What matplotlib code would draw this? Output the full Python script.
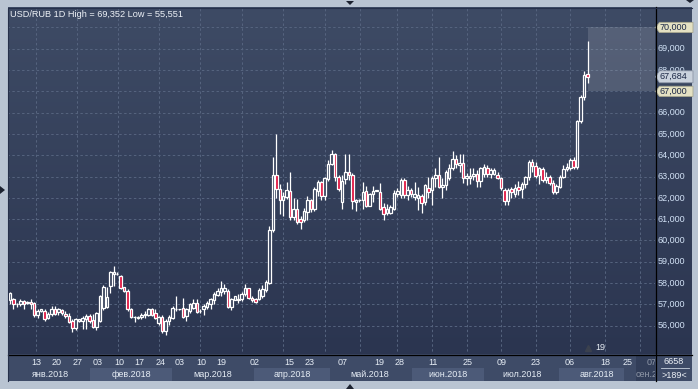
import numpy as np
import matplotlib
matplotlib.use("Agg")
import matplotlib.pyplot as plt
from matplotlib.patches import Rectangle, Polygon
from matplotlib.colors import LinearSegmentedColormap
import matplotlib.transforms as mtransforms

# USD/RUB daily candles, Jan - Aug 2018
opens = [57.20, 57.24, 57.00, 57.00, 57.16, 57.05, 57.11, 57.05, 56.48, 56.69,
         56.69, 56.37, 56.53, 56.80, 56.64, 56.73, 56.53, 56.45, 56.21, 55.90,
         56.21, 56.21, 56.29, 56.45, 56.25, 55.94, 56.21, 56.84, 56.89, 57.87,
         58.42, 58.42, 58.31, 57.83, 57.63,
         56.76, 56.43, 56.41, 56.41, 56.48, 56.52, 56.79, 56.60, 56.13, 56.41,
         55.73, 56.21, 56.37, 56.78, 56.76, 56.84, 56.44, 56.68, 56.84, 57.08,
         56.67, 56.76, 56.89, 57.00, 57.21, 57.43, 57.56, 57.63, 57.63, 56.89,
         57.21, 57.21, 57.24, 57.48, 57.75, 57.32, 57.24, 57.27,
         57.38, 57.66, 58.00, 60.50, 63.05, 62.42, 61.88, 62.03, 62.30, 61.09,
         61.48, 61.02, 60.97, 61.33, 61.88, 61.48, 62.34, 62.73, 62.11, 62.89,
         63.59, 64.06, 62.97, 61.80, 62.89, 63.20, 63.05, 61.80, 61.90, 61.91,
         62.30, 61.64, 62.16, 62.33,
         62.28, 61.58, 61.30, 61.30, 61.50, 62.20, 62.13, 62.86, 62.13, 62.39,
         62.05, 61.97, 62.08, 61.81, 62.44, 62.36, 62.91, 63.06, 62.52, 62.59,
         62.91, 63.38, 63.84, 63.53, 63.64, 62.91, 62.91, 63.02, 63.11, 62.80,
         63.14, 63.42, 63.11, 63.14,
         63.08, 62.94, 62.36, 61.84, 62.41, 62.20, 62.52, 62.41, 62.63, 62.99,
         63.67, 63.51, 63.07, 63.35, 62.83, 62.99, 62.72, 62.28, 62.52, 62.99,
         63.35, 63.42, 63.78, 63.46, 65.59, 66.72, 67.83]
highs = [57.58, 57.31, 57.08, 57.24, 57.20, 57.16, 57.24, 57.11, 56.76, 56.80,
         56.80, 56.64, 56.92, 56.92, 56.84, 56.80, 56.69, 56.61, 56.29, 56.37,
         56.32, 56.45, 56.53, 56.53, 56.53, 56.64, 57.43, 57.90, 57.83, 58.57,
         58.81, 58.50, 58.37, 57.83, 57.74,
         56.84, 56.44, 56.44, 56.60, 56.68, 56.84, 56.84, 56.79, 56.44, 56.48,
         56.32, 56.52, 56.92, 57.40, 56.80, 57.32, 56.84, 57.08, 57.24, 57.27,
         56.76, 57.00, 57.16, 57.32, 57.56, 57.79, 58.11, 57.95, 57.71, 57.32,
         57.40, 57.48, 57.56, 57.95, 57.79, 57.37, 57.30, 57.75,
         57.89, 58.13, 60.66, 63.91, 65.00, 62.66, 62.27, 62.73, 63.20, 62.00,
         61.95, 61.17, 61.53, 62.11, 61.95, 62.53, 62.84, 62.81, 62.97, 63.78,
         64.25, 64.09, 63.05, 63.05, 64.06, 64.06, 63.16, 61.95, 61.95, 62.73,
         62.58, 62.22, 62.58, 62.36,
         62.70, 61.77, 61.73, 61.66, 62.36, 62.44, 62.95, 62.91, 62.55, 62.48,
         62.75, 62.52, 62.20, 62.67, 62.98, 63.02, 63.38, 63.92, 62.95, 63.30,
         63.61, 64.20, 64.00, 64.05, 64.05, 63.17, 63.38, 63.38, 63.30, 63.45,
         63.58, 63.53, 63.42, 63.38,
         63.23, 62.99, 62.44, 62.47, 62.52, 62.63, 62.79, 62.76, 63.04, 63.78,
         63.83, 63.67, 63.46, 63.46, 63.23, 63.07, 62.83, 62.63, 63.07, 63.54,
         63.62, 63.86, 63.94, 65.67, 66.82, 67.95, 69.352]
lows = [57.00, 56.80, 56.89, 56.92, 56.80, 57.00, 56.80, 56.42, 56.37, 56.64,
        56.21, 56.29, 56.45, 56.48, 56.48, 56.48, 56.37, 56.13, 55.69, 55.79,
        56.19, 55.85, 55.85, 56.13, 55.90, 55.82, 56.17, 56.73, 56.83, 57.55,
        57.87, 58.37, 57.71, 57.58, 56.69,
        56.37, 56.16, 56.32, 56.32, 56.37, 56.44, 56.44, 56.29, 56.05, 55.65,
        55.551, 56.05, 56.29, 56.68, 56.72, 56.37, 56.21, 56.60, 56.76, 56.60,
        56.60, 56.52, 56.76, 56.76, 57.00, 57.37, 57.40, 57.48, 56.84, 56.73,
        57.21, 57.08, 57.16, 57.40, 57.24, 57.11, 57.08, 57.21,
        57.30, 57.60, 57.95, 60.40, 62.00, 61.25, 61.13, 61.95, 60.94, 60.94,
        60.78, 60.55, 60.86, 60.97, 61.33, 61.38, 62.11, 61.88, 61.88, 62.81,
        63.52, 62.81, 62.34, 61.48, 62.66, 62.84, 61.48, 61.36, 61.80, 61.48,
        61.59, 61.64, 61.80, 62.32,
        61.42, 60.95, 61.19, 61.23, 61.42, 62.05, 61.97, 61.97, 61.92, 62.05,
        61.92, 61.42, 61.27, 61.66, 61.97, 61.66, 62.52, 62.44, 61.97, 62.36,
        62.86, 63.30, 63.38, 63.22, 62.70, 62.59, 62.67, 62.83, 62.52, 62.52,
        62.98, 62.98, 62.91, 63.06,
        62.88, 62.36, 61.65, 61.65, 61.97, 62.05, 62.13, 61.97, 62.44, 62.83,
        63.23, 62.91, 62.63, 62.76, 62.68, 62.60, 62.20, 62.16, 62.44, 62.94,
        63.26, 63.31, 63.35, 63.35, 65.51, 66.61, 67.40]
closes = [57.52, 57.00, 57.02, 57.16, 57.00, 57.11, 57.00, 56.48, 56.69, 56.76,
          56.29, 56.57, 56.80, 56.57, 56.76, 56.61, 56.45, 56.17, 55.90, 56.29,
          56.29, 56.37, 56.45, 56.21, 55.94, 56.61, 57.39, 57.83, 57.36, 58.50,
          58.50, 58.43, 57.79, 57.63, 56.76,
          56.41, 56.41, 56.37, 56.52, 56.57, 56.79, 56.52, 56.37, 56.41, 55.73,
          56.21, 56.41, 56.84, 56.80, 56.77, 56.41, 56.76, 57.00, 57.08, 56.63,
          56.69, 56.92, 57.08, 57.24, 57.48, 57.63, 57.79, 57.79, 56.89, 57.27,
          57.37, 57.27, 57.48, 57.79, 57.32, 57.21, 57.13, 57.68,
          57.73, 58.05, 60.50, 63.05, 62.42, 61.88, 62.11, 62.38, 61.09, 61.48,
          60.86, 60.86, 61.36, 61.88, 61.48, 62.42, 62.73, 62.11, 62.94, 63.59,
          64.06, 63.00, 62.42, 62.81, 63.20, 63.05, 61.83, 61.91, 61.91, 62.27,
          61.64, 62.16, 62.34, 62.35,
          61.50, 61.23, 61.50, 61.58, 62.23, 62.33, 62.86, 62.13, 62.39, 62.17,
          62.20, 62.13, 61.77, 62.59, 62.28, 62.91, 63.06, 62.52, 62.59, 63.22,
          63.38, 63.84, 63.61, 63.64, 62.95, 63.02, 63.02, 63.14, 62.80, 63.38,
          63.45, 63.14, 63.30, 63.33,
          62.91, 62.44, 61.84, 62.36, 62.28, 62.47, 62.36, 62.63, 62.99, 63.67,
          63.51, 63.04, 63.39, 62.83, 62.99, 62.72, 62.28, 62.57, 62.99, 63.35,
          63.46, 63.78, 63.46, 65.62, 66.72, 67.76, 67.684]

price_ticks = [56, 57, 58, 59, 60, 61, 62, 63, 64, 65, 66, 67, 68, 69, 70]
range_lo, range_hi = 67.0, 70.0
last_price = 67.684
bar_count_label = "19"

day_pos = [7.5, 13.6, 19.4, 25.4, 31.5, 37.3, 43.4, 49.1, 55.2, 61.0, 70.8, 80.9,
           86.7, 96.3, 106.7, 112.5, 122.3, 132.4, 142.2, 152.1, 161.9, 172.0,
           178.7, 185.6]
day_labels = ["13", "20", "27", "03", "10", "17", "24", "03", "10", "19", "02", "15",
              "23", "07", "19", "28", "11", "25", "09", "23", "06", "18", "25", "07"]
month_labels = ["янв.2018", "фев.2018", "мар.2018", "апр.2018", "май.2018",
                "июн.2018", "июл.2018", "авг.2018"]
month_centers = [11.6, 35.0, 58.7, 81.5, 104.1, 126.6, 148.0, 169.7]
next_month_label, next_month_start = "сен.2018", 181.0
month_bands = [(23.1, 46.8), (70.5, 92.5), (116.2, 137.0), (158.7, 177.5)]
grid_x = [7.5, 19.4, 31.2, 43.1, 54.9, 67.1, 78.9, 91.1, 101.2, 111.9, 122.0,
          132.1, 142.0, 152.1, 161.9, 172.0, 182.1]

W, H = 698, 389
FONT = "Liberation Sans"
plt.rcParams["font.family"] = [FONT, "DejaVu Sans"]

fig = plt.figure(figsize=(W / 100, H / 100), dpi=100, facecolor="#b9c4d2")


def box(x0, y0, x1, y1):
    return [x0 / W, 1 - y1 / H, (x1 - x0) / W, (y1 - y0) / H]


# panel backgrounds in pixel space
bgax = fig.add_axes([0, 0, 1, 1], zorder=0)
bgax.set_xlim(0, W)
bgax.set_ylim(H, 0)
bgax.axis("off")
cmap = LinearSegmentedColormap.from_list("bg", ["#3e4b65", "#2b3550"])
bgax.imshow(np.linspace(0, 1, 256)[:, None], cmap=cmap, aspect="auto",
            extent=(8, 692, 354, 7), zorder=0)
bgax.add_patch(Rectangle((8, 354), 684, 27, facecolor="#3e4b67", zorder=1))

# main price chart
ax = fig.add_axes(box(8, 7, 655, 354), zorder=2)
ax.set_facecolor("none")
ax.set_xlim(-0.58, 186.5)
ax.set_ylim(54.67, 70.96)
ax.axis("off")

grid_kw = dict(color="#56647f", lw=0.7, linestyles=(0, (2.5, 2.5)), zorder=1)
ax.hlines(price_ticks, -1, 190, **grid_kw)
ax.vlines(grid_x, 50, 75, **grid_kw)

body_w = 0.72
for i, (o, h, l, c) in enumerate(zip(opens, highs, lows, closes)):
    ax.vlines(i, l, h, color="white", lw=0.9, zorder=3)
    bottom = min(o, c)
    height = max(abs(c - o), 0.015)
    face = "#e0103c" if c < o else "#34405a"
    ax.add_patch(Rectangle((i - body_w / 2, bottom), body_w, height,
                           facecolor=face, edgecolor="white", lw=0.9, zorder=4))

last_i = len(closes) - 1
ax.add_patch(Rectangle((last_i, range_lo), 190 - last_i, range_hi - range_lo,
                       facecolor="white", alpha=0.13, edgecolor="none", zorder=2))

ax.text(0.003, 0.977, "USD/RUB 1D High = 69,352 Low = 55,551", transform=ax.transAxes,
        ha="left", va="center", color="#eef2f7", fontsize=6.6)

# price scale
tr = mtransforms.blended_transform_factory(ax.transAxes, ax.transData)


def ax_x(px):
    return (px - 8) / 647.0


for p in price_ticks:
    if p in (range_lo, range_hi):
        continue
    ax.text(ax_x(658), p, f"{p},000", transform=tr, ha="left", va="center",
            color="#d2e2f6", fontsize=6.5, clip_on=False)


def tag(p, text, face, edge, hh):
    pts = [(ax_x(655.5), p), (ax_x(659.5), p + hh), (ax_x(693), p + hh),
           (ax_x(693), p - hh), (ax_x(659.5), p - hh)]
    ax.add_patch(Polygon(pts, closed=True, transform=tr, facecolor=face,
                         edgecolor=edge, lw=0.6, clip_on=False, zorder=6))
    ax.text(ax_x(660), p, text, transform=tr, ha="left", va="center",
            color="#1b2745", fontsize=6.5, clip_on=False, zorder=7)


tag(range_hi, "70,000", "#e4e1c3", "#a9a890", 0.24)
tag(last_price, f"{last_price:,.3f}".replace(".", ","), "#cad2dd", "#8c96a6", 0.28)
tag(range_lo, "67,000", "#e4e1c3", "#a9a890", 0.24)

trb = mtransforms.blended_transform_factory(ax.transData, ax.transAxes)
ax.plot([last_i], [0.018], marker="^", ms=5, color="#3b414e", transform=trb,
        clip_on=False, zorder=6)
ax.text(last_i + 2.3, 0.018, bar_count_label, transform=trb, ha="left", va="center",
        color="#e8eef5", fontsize=6.5, zorder=7)

# date scale
dax = fig.add_axes(box(8, 355, 655, 381), zorder=2)
dax.set_facecolor("#3e4b67")
dax.set_xlim(ax.get_xlim())
dax.set_ylim(1, 0)
dax.axis("off")
for a, b in month_bands:
    dax.add_patch(Rectangle((a, 0.5), b - a, 0.5, facecolor="#4c5a78", edgecolor="none"))
for x, t in zip(day_pos, day_labels):
    dax.text(x, 0.27, t, ha="center", va="center", color="#e6edf5", fontsize=6.5,
             clip_on=True)
for x, t in zip(month_centers, month_labels):
    dax.text(x, 0.74, t, ha="center", va="center", color="#e6edf5", fontsize=6.5,
             clip_on=True)
dax.text(next_month_start, 0.74, next_month_label, ha="left", va="center",
         color="#e6edf5", fontsize=6.5, clip_on=True)
dax.add_patch(Rectangle((next_month_start, 0), 10, 1, facecolor="#25304a", alpha=0.45,
                        edgecolor="none", zorder=5))

# overlay: separators, corner box, small arrows
ov = fig.add_axes([0, 0, 1, 1], zorder=8)
ov.set_facecolor("none")
ov.set_xlim(0, W)
ov.set_ylim(H, 0)
ov.axis("off")
ov.plot([655.5, 655.5], [7, 381], color="black", lw=0.9)
ov.plot([8, 692], [354.5, 354.5], color="black", lw=0.9)
ov.plot([7.5, 7.5, 692], [381, 7.5, 7.5], color="#26304a", lw=0.8)
ov.plot([661, 689], [368, 368], color="#c8d2de", lw=0.6)
ov.text(674, 362, "6658", ha="center", va="center", color="#eef2f7", fontsize=6.5)
ov.text(674, 375, ">189<", ha="center", va="center", color="#eef2f7", fontsize=6.5)
for pts in ([(346, 1), (354, 1), (350, 5)], [(686, 0), (694, 0), (690, 3)],
            [(0, 186), (0, 194), (5, 190)], [(346, 389), (354, 389), (350, 384)]):
    ov.add_patch(Polygon(pts, closed=True, facecolor="#1c2230", edgecolor="none"))

fig.savefig("out.png", dpi=100, facecolor=fig.get_facecolor())
